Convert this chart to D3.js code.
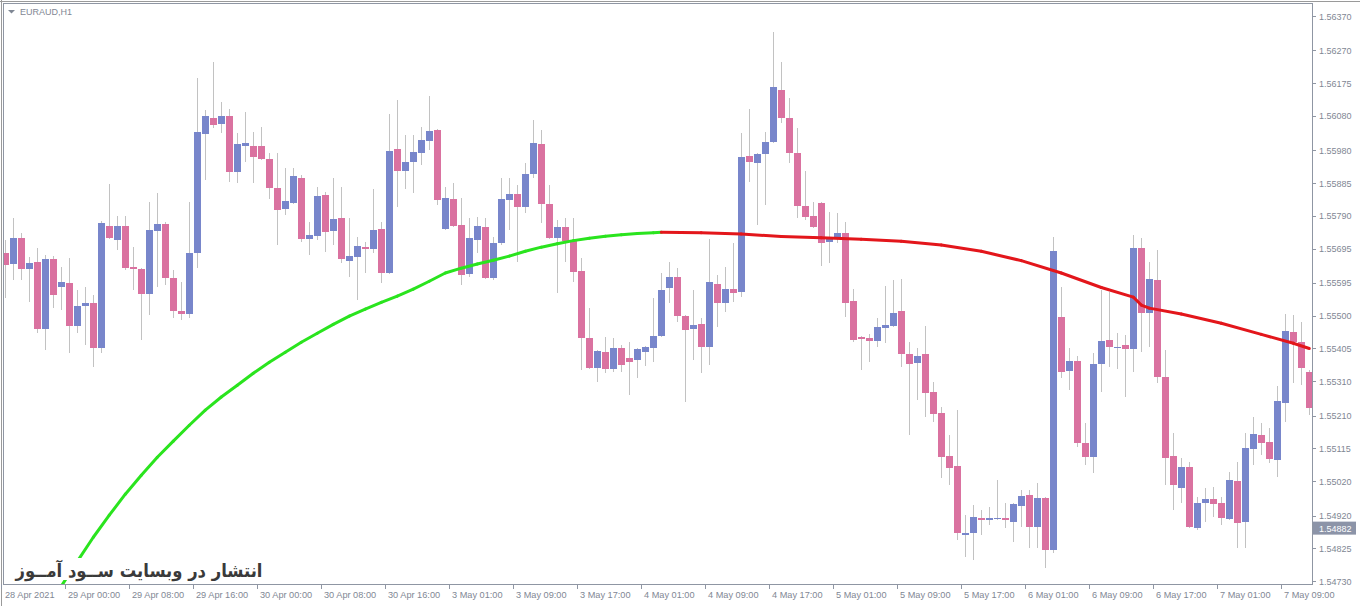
<!DOCTYPE html>
<html>
<head>
<meta charset="utf-8">
<script src="https://cdn.jsdelivr.net/npm/d3@7"></script>
<style>
  body { margin: 0; background: #fff; }
  svg { display: block; }
</style>
</head>
<body>
<script>
// Datos de las velas EURAUD H1
const opens = [
  1.55682, 1.55650, 1.55725, 1.55635, 1.55655, 1.55461, 1.55664, 1.55583, 1.55595, 1.55470,
  1.55528, 1.55536, 1.55406, 1.55760, 1.55719, 1.55760, 1.55641, 1.55635, 1.55563, 1.55745,
  1.55766, 1.55609, 1.55513, 1.55505, 1.55682, 1.56027, 1.56073, 1.56056, 1.56079, 1.55917,
  1.55992, 1.55992, 1.55992, 1.55954, 1.55870, 1.55809, 1.55827, 1.55899, 1.55722, 1.55731,
  1.55850, 1.55745, 1.55783, 1.55658, 1.55670, 1.55699, 1.55693, 1.55751, 1.55624, 1.55984,
  1.55920, 1.55946, 1.55972, 1.56007, 1.56039, 1.55751, 1.55838, 1.55763, 1.55621, 1.55719,
  1.55757, 1.55609, 1.55711, 1.55835, 1.55853, 1.55815, 1.55911, 1.55998, 1.55824, 1.55725,
  1.55757, 1.55719, 1.55629, 1.55435, 1.55348, 1.55394, 1.55345, 1.55406, 1.55377, 1.55371,
  1.55394, 1.55406, 1.55441, 1.55580, 1.55612, 1.55499, 1.55461, 1.55475, 1.55409, 1.55592,
  1.55536, 1.55577, 1.55568, 1.55963, 1.55943, 1.55969, 1.56004, 1.56155, 1.56073, 1.55972,
  1.55818, 1.55789, 1.55827, 1.55714, 1.55728, 1.55740, 1.55542, 1.55438, 1.55435, 1.55426,
  1.55464, 1.55470, 1.55513, 1.55388, 1.55362, 1.55388, 1.55278, 1.55217, 1.55092, 1.55063,
  1.54863, 1.54869, 1.54912, 1.54906, 1.54909, 1.54912, 1.54901, 1.54947, 1.54979, 1.54886,
  1.54970, 1.54819, 1.55496, 1.55339, 1.55368, 1.55130, 1.55089, 1.55359, 1.55429, 1.55406,
  1.55415, 1.55403, 1.55696, 1.55507, 1.55603, 1.55322, 1.55092, 1.54999, 1.55060, 1.54883,
  1.54956, 1.54967, 1.54956, 1.54909, 1.55020, 1.54901, 1.55113, 1.55153, 1.55133, 1.55081,
  1.55246, 1.55452, 1.55423, 1.55336
];
const highs = [
  1.55719, 1.55783, 1.55740, 1.55670, 1.55696, 1.55676, 1.55673, 1.55641, 1.55667, 1.55574,
  1.55583, 1.55560, 1.55774, 1.55882, 1.55789, 1.55789, 1.55699, 1.55638, 1.55830, 1.55856,
  1.55772, 1.55632, 1.55597, 1.55830, 1.56190, 1.56097, 1.56236, 1.56120, 1.56100, 1.56030,
  1.56091, 1.56033, 1.56047, 1.55972, 1.55972, 1.55928, 1.55928, 1.55908, 1.55772, 1.55873,
  1.55859, 1.55899, 1.55873, 1.55783, 1.55728, 1.55714, 1.55867, 1.55772, 1.56085, 1.56126,
  1.56024, 1.56024, 1.56047, 1.56137, 1.56042, 1.55873, 1.55885, 1.55841, 1.55783, 1.55786,
  1.55783, 1.55728, 1.55899, 1.55899, 1.55879, 1.55943, 1.56068, 1.56039, 1.55879, 1.55777,
  1.55783, 1.55783, 1.55667, 1.55522, 1.55400, 1.55438, 1.55435, 1.55415, 1.55423, 1.55406,
  1.55412, 1.55551, 1.55624, 1.55655, 1.55638, 1.55502, 1.55574, 1.55493, 1.55722, 1.55618,
  1.55641, 1.55711, 1.56030, 1.56100, 1.55972, 1.56033, 1.56323, 1.56236, 1.56132, 1.56044,
  1.55920, 1.55830, 1.55830, 1.55801, 1.55798, 1.55772, 1.55577, 1.55441, 1.55446, 1.55493,
  1.55586, 1.55603, 1.55606, 1.55423, 1.55406, 1.55470, 1.55307, 1.55235, 1.55153, 1.55226,
  1.54921, 1.54950, 1.54936, 1.54944, 1.55023, 1.54956, 1.54956, 1.54994, 1.54994, 1.55014,
  1.54973, 1.55728, 1.55583, 1.55406, 1.55383, 1.55188, 1.55391, 1.55574, 1.55568, 1.55449,
  1.55444, 1.55734, 1.55725, 1.55655, 1.55690, 1.55400, 1.55159, 1.55086, 1.55075, 1.54973,
  1.54999, 1.55002, 1.54973, 1.55046, 1.55075, 1.55159, 1.55205, 1.55188, 1.55174, 1.55295,
  1.55505, 1.55502, 1.55481, 1.55342
];
const lows = [
  1.55551, 1.55603, 1.55603, 1.55539, 1.55449, 1.55400, 1.55522, 1.55516, 1.55391, 1.55449,
  1.55415, 1.55351, 1.55391, 1.55722, 1.55690, 1.55632, 1.55574, 1.55429, 1.55502, 1.55583,
  1.55589, 1.55493, 1.55487, 1.55493, 1.55638, 1.55894, 1.56044, 1.56030, 1.55888, 1.55885,
  1.55946, 1.55885, 1.55952, 1.55838, 1.55705, 1.55792, 1.55824, 1.55714, 1.55676, 1.55719,
  1.55684, 1.55705, 1.55653, 1.55612, 1.55545, 1.55624, 1.55682, 1.55595, 1.55621, 1.55815,
  1.55867, 1.55856, 1.55937, 1.55981, 1.55821, 1.55748, 1.55757, 1.55589, 1.55612, 1.55682,
  1.55606, 1.55603, 1.55705, 1.55748, 1.55655, 1.55798, 1.55899, 1.55769, 1.55722, 1.55565,
  1.55655, 1.55597, 1.55342, 1.55345, 1.55307, 1.55333, 1.55336, 1.55336, 1.55269, 1.55319,
  1.55354, 1.55365, 1.55438, 1.55536, 1.55481, 1.55249, 1.55371, 1.55333, 1.55356, 1.55467,
  1.55510, 1.55539, 1.55554, 1.55888, 1.55763, 1.55821, 1.56001, 1.56059, 1.55943, 1.55783,
  1.55777, 1.55754, 1.55644, 1.55653, 1.55711, 1.55496, 1.55423, 1.55342, 1.55365, 1.55409,
  1.55420, 1.55467, 1.55351, 1.55153, 1.55255, 1.55205, 1.55191, 1.55028, 1.55008, 1.54848,
  1.54799, 1.54790, 1.54863, 1.54892, 1.54906, 1.54883, 1.54843, 1.54886, 1.54825, 1.54825,
  1.54767, 1.54811, 1.55319, 1.55284, 1.55118, 1.55066, 1.55043, 1.55278, 1.55351, 1.55345,
  1.55264, 1.55336, 1.55394, 1.55409, 1.55304, 1.55008, 1.54936, 1.54956, 1.54883, 1.54877,
  1.54901, 1.54915, 1.54892, 1.54906, 1.54825, 1.54825, 1.55066, 1.55095, 1.55072, 1.55031,
  1.55191, 1.55304, 1.55298, 1.55211
];
const closes = [
  1.55647, 1.55725, 1.55635, 1.55653, 1.55461, 1.55664, 1.55560, 1.55597, 1.55470, 1.55528,
  1.55536, 1.55406, 1.55769, 1.55725, 1.55760, 1.55638, 1.55635, 1.55563, 1.55748, 1.55766,
  1.55609, 1.55513, 1.55505, 1.55682, 1.56033, 1.56079, 1.56053, 1.56079, 1.55917, 1.55998,
  1.56001, 1.55960, 1.55954, 1.55870, 1.55806, 1.55833, 1.55905, 1.55722, 1.55734, 1.55847,
  1.55743, 1.55780, 1.55664, 1.55673, 1.55702, 1.55693, 1.55748, 1.55624, 1.55978, 1.55920,
  1.55946, 1.55975, 1.56010, 1.56036, 1.55835, 1.55841, 1.55760, 1.55618, 1.55725, 1.55760,
  1.55609, 1.55711, 1.55838, 1.55853, 1.55815, 1.55911, 1.56001, 1.55824, 1.55725, 1.55757,
  1.55716, 1.55626, 1.55435, 1.55348, 1.55397, 1.55345, 1.55406, 1.55356, 1.55365, 1.55403,
  1.55409, 1.55441, 1.55574, 1.55612, 1.55499, 1.55458, 1.55473, 1.55409, 1.55597, 1.55536,
  1.55577, 1.55565, 1.55960, 1.55946, 1.55969, 1.56004, 1.56163, 1.56073, 1.55972, 1.55818,
  1.55786, 1.55757, 1.55711, 1.55725, 1.55740, 1.55536, 1.55429, 1.55432, 1.55426, 1.55467,
  1.55473, 1.55507, 1.55388, 1.55359, 1.55383, 1.55275, 1.55214, 1.55089, 1.55057, 1.54869,
  1.54869, 1.54915, 1.54906, 1.54912, 1.54912, 1.54906, 1.54953, 1.54976, 1.54886, 1.54970,
  1.54819, 1.55687, 1.55336, 1.55368, 1.55130, 1.55089, 1.55359, 1.55426, 1.55409, 1.55409,
  1.55403, 1.55696, 1.55507, 1.55606, 1.55322, 1.55086, 1.55008, 1.55060, 1.54886, 1.54956,
  1.54967, 1.54953, 1.54912, 1.55023, 1.54898, 1.55116, 1.55156, 1.55130, 1.55084, 1.55252,
  1.55455, 1.55423, 1.55348, 1.55232
];

// Media móvil (índice de vela y valor)
const maIndex = [6, 7, 9, 11, 13, 15, 17, 19, 21, 23, 25, 27, 29, 31, 33, 35, 37, 39, 41, 43,
  45, 47, 49, 51, 53, 55, 57, 59, 61, 63, 65, 67, 69, 71, 73, 75, 77, 79, 81, 82,
  87, 92, 97, 102, 107, 112, 117, 122, 127, 132, 137, 141, 142, 143, 147, 152, 157, 161, 163];
const maValues = [1.54680, 1.54715, 1.54787, 1.54857, 1.54921, 1.54982, 1.55037, 1.55089, 1.55136, 1.55182,
  1.55226, 1.55264, 1.55298, 1.55333, 1.55365, 1.55394, 1.55423, 1.55449, 1.55475, 1.55499,
  1.55519, 1.55539, 1.55557, 1.55577, 1.55600, 1.55624, 1.55638, 1.55650, 1.55661, 1.55673,
  1.55687, 1.55699, 1.55709, 1.55718, 1.55725, 1.55731, 1.55735, 1.55739, 1.55741, 1.55742,
  1.55741, 1.55737, 1.55730, 1.55726, 1.55722, 1.55716, 1.55705, 1.55687, 1.55660, 1.55624,
  1.55582, 1.55554, 1.55531, 1.55522, 1.55505, 1.55478, 1.55446, 1.55420, 1.55405];

// Etiquetas de los ejes
const priceTicks = ["1.56370", "1.56270", "1.56175", "1.56080", "1.55980", "1.55885",
  "1.55790", "1.55695", "1.55595", "1.55500", "1.55405", "1.55310", "1.55210", "1.55115",
  "1.55020", "1.54920", "1.54825", "1.54730"];
const timeLabels = ["28 Apr 2021", "29 Apr 00:00", "29 Apr 08:00", "29 Apr 16:00",
  "30 Apr 00:00", "30 Apr 08:00", "30 Apr 16:00", "3 May 01:00", "3 May 09:00",
  "3 May 17:00", "4 May 01:00", "4 May 09:00", "4 May 17:00", "5 May 01:00",
  "5 May 09:00", "5 May 17:00", "6 May 01:00", "6 May 09:00", "6 May 17:00",
  "7 May 01:00", "7 May 09:00"];
const timeLabelIndex = [0, 8, 16, 24, 32, 40, 48, 56, 64, 72, 80, 88, 96, 104, 112, 120,
  128, 136, 144, 152, 160];
const lastPrice = "1.54882";
const symbolTitle = "EURAUD,H1";
const watermark = "انتشار در وبسایت ســود آمــوز";

// Configuración del diseño
const width = 1360;
const height = 606;
const plot = { left: 4, top: 4, right: 1312, bottom: 584 };
const axisColor = "#8f96a3";
const textColor = "#7f8794";
const bullColor = "#7886cb";
const bearColor = "#da72a0";
const wickColor = "#c2c2c2";

const svg = d3.select("body").append("svg")
    .attr("width", width)
    .attr("height", height);

// Escalas
const x = d3.scaleBand()
    .domain(d3.range(opens.length))
    .range([1.3, 1.3 + opens.length * 8])
    .paddingInner(0.2)
    .paddingOuter(0.1);
const center = i => x(i) + x.bandwidth() / 2;

const y = d3.scaleLinear()
    .domain([+priceTicks[priceTicks.length - 1], +priceTicks[0]])
    .range([581, 16]);

// Recorte del área del gráfico
svg.append("clipPath").attr("id", "clip")
  .append("rect")
    .attr("x", plot.left)
    .attr("y", plot.top)
    .attr("width", plot.right - plot.left)
    .attr("height", plot.bottom - plot.top);

const chart = svg.append("g").attr("clip-path", "url(#clip)");

// Velas
const candles = d3.range(opens.length).map(i => ({
    i, o: opens[i], h: highs[i], l: lows[i], c: closes[i]
}));

const candle = chart.selectAll(".candle")
    .data(candles)
    .join("g")
    .attr("class", "candle");

candle.append("line")
    .attr("x1", d => Math.round(center(d.i) - 3.5) + 3.5)
    .attr("x2", d => Math.round(center(d.i) - 3.5) + 3.5)
    .attr("y1", d => Math.round(y(d.h)))
    .attr("y2", d => Math.round(y(d.l)))
    .attr("stroke", wickColor)
    .attr("stroke-width", 1);

candle.append("rect")
    .attr("x", d => Math.round(center(d.i) - 3.5))
    .attr("width", 7)
    .attr("y", d => Math.round(y(Math.max(d.o, d.c))))
    .attr("height", d => Math.max(1, Math.round(Math.abs(y(d.o) - y(d.c)))))
    .attr("fill", d => d.c >= d.o ? bullColor : bearColor)
    .attr("shape-rendering", "crispEdges");

// Media móvil: verde si sube, rojo si baja
const maPoints = maIndex.map((k, j) => [center(k), y(maValues[j])]);
const segments = d3.pairs(maPoints).map((p, j) => ({
    p,
    up: maValues[j + 1] >= maValues[j]
}));

chart.selectAll(".ma")
    .data(segments)
    .join("path")
    .attr("class", "ma")
    .attr("d", d => d3.line()(d.p))
    .attr("fill", "none")
    .attr("stroke", d => d.up ? "#2ae41e" : "#e3161b")
    .attr("stroke-width", 3)
    .attr("stroke-linecap", "round");

// Marco y ejes
svg.append("rect")
    .attr("x", plot.left - 0.5)
    .attr("y", plot.top - 0.5)
    .attr("width", plot.right - plot.left + 1)
    .attr("height", plot.bottom - plot.top + 1)
    .attr("fill", "none")
    .attr("stroke", axisColor);

svg.append("line")
    .attr("x1", 0).attr("x2", width)
    .attr("y1", 1.5).attr("y2", 1.5)
    .attr("stroke", "#9a9a9a");
svg.append("line")
    .attr("x1", 1.5).attr("x2", 1.5)
    .attr("y1", 0).attr("y2", height)
    .attr("stroke", "#9a9a9a");

// Eje de precios (derecha)
const yAxis = svg.append("g");
yAxis.selectAll("line")
    .data(priceTicks)
    .join("line")
    .attr("x1", plot.right + 0.5)
    .attr("x2", plot.right + 4)
    .attr("y1", d => Math.round(y(+d)) + 0.5)
    .attr("y2", d => Math.round(y(+d)) + 0.5)
    .attr("stroke", axisColor);

yAxis.selectAll("text")
    .data(priceTicks)
    .join("text")
    .attr("x", plot.right + 7)
    .attr("y", d => y(+d) + 3.5)
    .attr("font-family", "Liberation Sans, Arial, sans-serif")
    .attr("font-size", 9)
    .attr("fill", textColor)
    .text(d => d);

// Etiqueta del precio actual
const lastY = y(+lastPrice);
svg.append("rect")
    .attr("x", plot.right + 1)
    .attr("y", lastY - 7)
    .attr("width", 43)
    .attr("height", 13)
    .attr("fill", "#8c94a8");
svg.append("text")
    .attr("x", plot.right + 7)
    .attr("y", lastY + 3.5)
    .attr("font-family", "Liberation Sans, Arial, sans-serif")
    .attr("font-size", 9)
    .attr("fill", "#ffffff")
    .text(lastPrice);

// Eje de tiempo (abajo)
const xAxis = svg.append("g");
const tickX = k => Math.round(x(k) + x.bandwidth() / 2 - x.step() / 2) + 0.5;

xAxis.selectAll("line")
    .data(timeLabelIndex)
    .join("line")
    .attr("x1", d => tickX(d))
    .attr("x2", d => tickX(d))
    .attr("y1", plot.bottom)
    .attr("y2", plot.bottom + 5)
    .attr("stroke", axisColor);

xAxis.selectAll("text")
    .data(timeLabelIndex)
    .join("text")
    .attr("x", d => Math.max(tickX(d) + 2.5, plot.left + 1))
    .attr("y", 597.5)
    .attr("font-family", "Liberation Sans, Arial, sans-serif")
    .attr("font-size", 9.2)
    .attr("fill", textColor)
    .text((d, j) => timeLabels[j]);

// Título del símbolo
svg.append("path")
    .attr("d", "M8,10 L15,10 L11.5,13.5 Z")
    .attr("fill", textColor);
svg.append("text")
    .attr("x", 20)
    .attr("y", 15)
    .attr("font-family", "Liberation Sans, Arial, sans-serif")
    .attr("font-size", 9)
    .attr("fill", textColor)
    .text(symbolTitle);

// Marca de agua
svg.append("rect")
    .attr("x", 14)
    .attr("y", 558)
    .attr("width", 250)
    .attr("height", 22)
    .attr("fill", "#ffffff");
svg.append("text")
    .attr("x", 139)
    .attr("y", 576.5)
    .attr("text-anchor", "middle")
    .attr("font-family", "DejaVu Sans, sans-serif")
    .attr("font-weight", "bold")
    .attr("font-size", 18)
    .attr("textLength", 247)
    .attr("lengthAdjust", "spacingAndGlyphs")
    .attr("fill", "#3a3a3a")
    .text(watermark);
</script>
</body>
</html>
